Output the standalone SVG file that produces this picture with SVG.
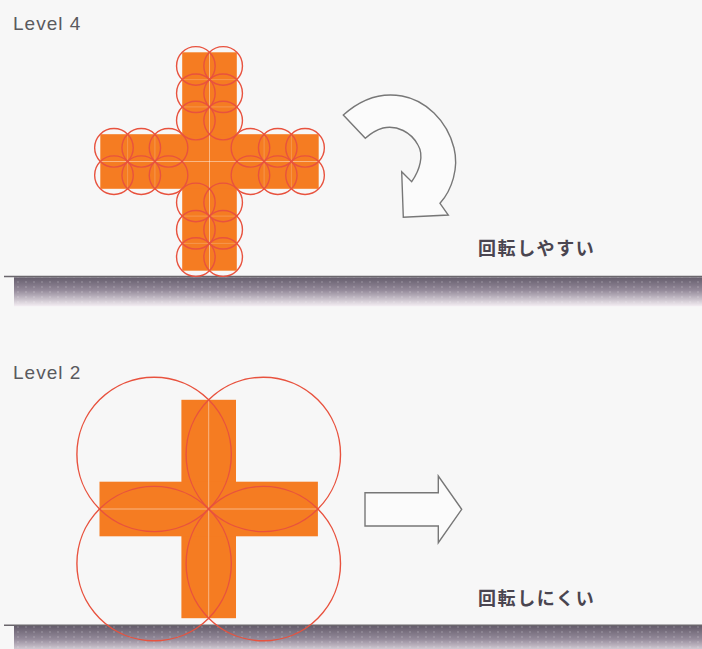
<svg xmlns="http://www.w3.org/2000/svg" width="702" height="649" viewBox="0 0 702 649">
<defs>
<linearGradient id="groundGrad" x1="0" y1="0" x2="0" y2="1">
<stop offset="0" stop-color="#655d6c"/>
<stop offset="0.45" stop-color="#948a9a"/>
<stop offset="1" stop-color="#f4eef3"/>
</linearGradient>
<pattern id="dots" width="8" height="5" patternUnits="userSpaceOnUse">
<circle cx="2" cy="2" r="0.7" fill="#ffffff" fill-opacity="0.35"/>
</pattern>
<style>
.bg{fill:#f7f7f7}
.label{font-family:"Liberation Sans",Arial,sans-serif;font-size:19px;letter-spacing:1px;fill:#5a5a5e}
.jp{font-family:"Noto Sans CJK JP","Noto Sans",sans-serif;font-size:18px;font-weight:bold;letter-spacing:1.6px;fill:#4a4550}
.cross{fill:#f57c22}
.cell{fill:none;stroke:#e8523e;stroke-width:1.4}
.grid{stroke:#ffffff;stroke-opacity:0.45;stroke-width:1;fill:none}
.grid2{stroke:#ffffff;stroke-opacity:0.2;stroke-width:1;fill:none}
.gline{stroke:#6a666c;stroke-width:1.5}
.arrow{fill:#fbfbfb;stroke:#777777;stroke-width:1.4;stroke-linejoin:miter}
</style>
</defs>
<rect class="bg" x="0" y="0" width="702" height="649"/>

<g id="ground4">
<rect x="14" y="277.3" width="688" height="29" fill="url(#groundGrad)"/>
<rect x="14" y="277.3" width="688" height="29" fill="url(#dots)"/>
<line class="gline" x1="4" y1="276.5" x2="702" y2="276.5"/>
</g>
<g id="ground2">
<rect x="14" y="626" width="688" height="29" fill="url(#groundGrad)"/>
<rect x="14" y="626" width="688" height="29" fill="url(#dots)"/>
<line class="gline" x1="4" y1="625.2" x2="702" y2="625.2"/>
</g>

<g id="label-level4"><text class="label" x="13" y="30">Level 4</text></g>
<g id="label-level2"><text class="label" x="13" y="379">Level 2</text></g>

<g id="cross-level4">
<rect class="cross" x="182.2" y="52.3" width="54.6" height="218.4"/>
<rect class="cross" x="100.3" y="134.2" width="218.4" height="54.6"/>
<line class="grid" x1="209.5" y1="52.3" x2="209.5" y2="270.7"/>
<line class="grid" x1="100.3" y1="161.5" x2="318.7" y2="161.5"/>
<path class="grid2" d="M182.2,79.6H236.8M182.2,106.9H236.8M182.2,216.1H236.8M182.2,243.4H236.8M127.6,134.2V188.8M154.9,134.2V188.8M264.1,134.2V188.8M291.4,134.2V188.8"/>
<g id="circles-level4">
<circle class="cell" cx="195.85" cy="65.95" r="19.3"/>
<circle class="cell" cx="223.15" cy="65.95" r="19.3"/>
<circle class="cell" cx="195.85" cy="93.25" r="19.3"/>
<circle class="cell" cx="223.15" cy="93.25" r="19.3"/>
<circle class="cell" cx="195.85" cy="120.55" r="19.3"/>
<circle class="cell" cx="223.15" cy="120.55" r="19.3"/>
<circle class="cell" cx="195.85" cy="202.45" r="19.3"/>
<circle class="cell" cx="223.15" cy="202.45" r="19.3"/>
<circle class="cell" cx="195.85" cy="229.75" r="19.3"/>
<circle class="cell" cx="223.15" cy="229.75" r="19.3"/>
<circle class="cell" cx="195.85" cy="257.05" r="19.3"/>
<circle class="cell" cx="223.15" cy="257.05" r="19.3"/>
<circle class="cell" cx="113.95" cy="147.85" r="19.3"/>
<circle class="cell" cx="141.25" cy="147.85" r="19.3"/>
<circle class="cell" cx="168.55" cy="147.85" r="19.3"/>
<circle class="cell" cx="113.95" cy="175.15" r="19.3"/>
<circle class="cell" cx="141.25" cy="175.15" r="19.3"/>
<circle class="cell" cx="168.55" cy="175.15" r="19.3"/>
<circle class="cell" cx="250.45" cy="147.85" r="19.3"/>
<circle class="cell" cx="277.75" cy="147.85" r="19.3"/>
<circle class="cell" cx="305.05" cy="147.85" r="19.3"/>
<circle class="cell" cx="250.45" cy="175.15" r="19.3"/>
<circle class="cell" cx="277.75" cy="175.15" r="19.3"/>
<circle class="cell" cx="305.05" cy="175.15" r="19.3"/>
</g>
</g>

<g id="cross-level2">
<rect class="cross" x="181.4" y="399.8" width="54.6" height="218.4"/>
<rect class="cross" x="99.5" y="481.7" width="218.4" height="54.6"/>
<line class="grid" x1="208.7" y1="399.8" x2="208.7" y2="618.2"/>
<line class="grid" x1="99.5" y1="509" x2="317.9" y2="509"/>
<g id="circles-level2">
<circle class="cell" cx="154.1" cy="454.4" r="77.2"/>
<circle class="cell" cx="263.3" cy="454.4" r="77.2"/>
<circle class="cell" cx="154.1" cy="563.6" r="77.2"/>
<circle class="cell" cx="263.3" cy="563.6" r="77.2"/>
</g>
</g>

<g id="connectors">
<path id="arrow-rotate" class="arrow" d="M343.3,115 C360,100 380,92 402,96 C425,100 447,120 454,148 C459,168 452,190 440,203.3 L448.3,215 L403.3,217.3 L401.7,171.7 L411.7,181.7 C420,170 424,155 418,145 C411,132 397,125 383,128 C376,130 370,134 365.3,138.3 Z"/>
<path id="arrow-slide" class="arrow" d="M365,492.7 L438.3,492.7 L438.3,476 L461.7,509.3 L438.3,542.7 L438.3,526 L365,526 Z"/>
</g>

<g id="text-easy"><text class="jp" x="478" y="255">回転しやすい</text></g>
<g id="text-hard"><text class="jp" x="478" y="605">回転しにくい</text></g>
</svg>
